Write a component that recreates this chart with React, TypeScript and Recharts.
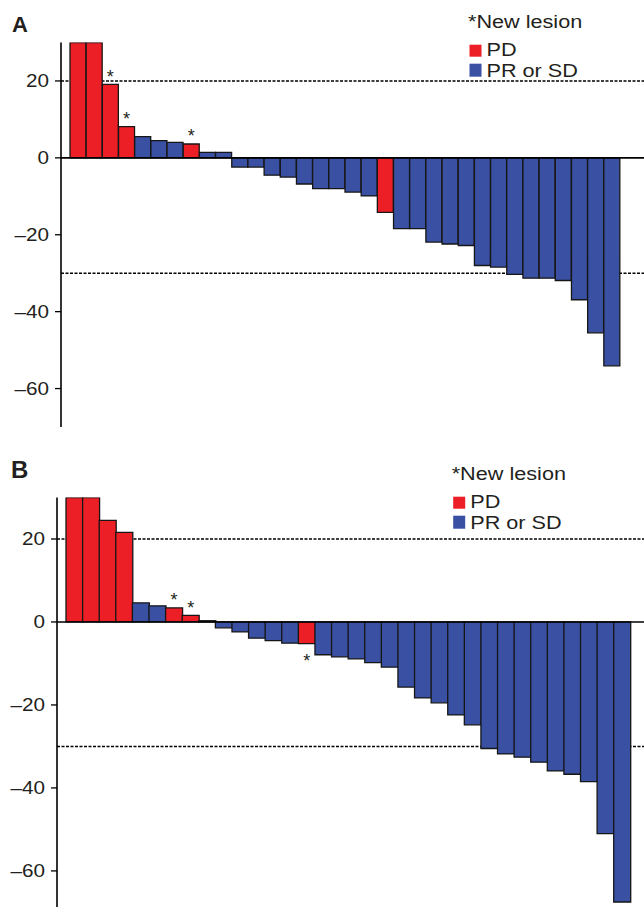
import { BarChart, Bar, Cell, XAxis, YAxis, CartesianGrid, ReferenceLine, LabelList } from "recharts";

// % change from baseline per patient, sorted
const patientsA = Array.from({ length: 34 }, (_, i) => `A${i + 1}`);
const changeA = [30, 30, 19.1, 8.1, 5.5, 4.5, 4.0, 3.6, 1.4, 1.4, -2.4, -2.4, -4.5, -5.0, -6.8, -8.0, -8.0, -8.9, -9.9, -14.2, -18.4, -18.4, -21.9, -22.4, -22.8, -28.0, -28.4, -30.3, -31.3, -31.3, -31.9, -36.9, -45.5, -54.1];
const pdA = [0, 1, 2, 3, 7, 19];
const newLesionA = [2, 3, 7];

const patientsB = Array.from({ length: 34 }, (_, i) => `B${i + 1}`);
const changeB = [30, 30, 24.5, 21.6, 4.6, 3.9, 3.4, 1.6, 0.3, -1.4, -2.4, -3.9, -4.5, -5.1, -5.2, -7.9, -8.4, -8.9, -9.8, -10.9, -15.7, -18.3, -19.5, -22.4, -24.8, -30.5, -31.8, -32.6, -33.8, -35.9, -36.7, -38.5, -51.0, -67.5];
const pdB = [0, 1, 2, 3, 6, 7, 14];
const newLesionB = [6, 7, 14];

const yTicks = [-60, -40, -20, 0, 20];
const cutoffs = [20, -30];

const RED = "#ed1f26";
const BLUE = "#3a51a3";
const INK = "#231f20";
const FONT = "'Liberation Sans', Arial, Helvetica, sans-serif";

type Row = { id: string; value: number; pd: boolean; star: boolean };

function buildRows(ids: string[], vals: number[], pd: number[], stars: number[]): Row[] {
  return ids.map((id, i) => ({ id, value: vals[i], pd: pd.includes(i), star: stars.includes(i) }));
}

const rowsA = buildRows(patientsA, changeA, pdA, newLesionA);
const rowsB = buildRows(patientsB, changeB, pdB, newLesionB);

const fmt = (v: number) => (v < 0 ? `\u2013${Math.abs(v)}` : `${v}`);

const Tick = (props: any) => {
  const { x, y, payload } = props;
  return (
    <text transform={`translate(${x},${y}) scale(1.15,1)`} textAnchor="end" dy="0.36em" fontSize={18} fill={INK} fontFamily={FONT}>
      {fmt(payload.value)}
    </text>
  );
};

const makeStar = (rows: Row[]) => (props: any) => {
  const { x, y, width, height, index } = props;
  const row = rows[index];
  if (!row || !row.star) return null;
  const top = Math.min(y, y + height);
  const bottom = Math.max(y, y + height);
  const cx = x + width / 2;
  const ty = row.value >= 0 ? top - 1.6 : bottom + 23.4;
  return (
    <text x={cx} y={ty} textAnchor="middle" fontSize={18} fill={INK} fontFamily={FONT}>
      *
    </text>
  );
};

function Waterfall({ rows, height, top, axisW, padR, yMin }: { rows: Row[]; height: number; top: number; axisW: number; padR: number; yMin: number }) {
  return (
    <BarChart width={644} height={height} data={rows} margin={{ top, right: 0, bottom: 0, left: 0 }} barCategoryGap={0} barGap={0}>
      <CartesianGrid vertical={false} horizontalValues={cutoffs} stroke="#000" strokeWidth={1.6} strokeDasharray="3 1.5" />
      <XAxis dataKey="id" hide padding={{ left: 9, right: padR }} />
      <YAxis
        width={axisW}
        domain={[yMin, 30]}
        ticks={yTicks}
        allowDataOverflow
        tick={<Tick />}
        tickSize={6}
        tickMargin={6}
        axisLine={{ stroke: "#000", strokeWidth: 1.6 }}
        tickLine={{ stroke: "#000", strokeWidth: 1.3 }}
      />
      <Bar dataKey="value" isAnimationActive={false} stroke="#161616" strokeWidth={1.3}>
        {rows.map((r) => (
          <Cell key={r.id} fill={r.pd ? RED : BLUE} />
        ))}
        <LabelList dataKey="value" content={makeStar(rows)} />
      </Bar>
      <ReferenceLine y={0} stroke="#000" strokeWidth={1.6} />
    </BarChart>
  );
}

function Legend({ x, y }: { x: number; y: number }) {
  return (
    <g fontFamily={FONT} fill={INK} fontSize={18.5}>
      <text transform={`translate(${x},${y}) scale(1.17,1)`}>*New lesion</text>
      <rect x={x + 1.5} y={y + 16.7} width={12} height={12} fill={RED} />
      <text transform={`translate(${x + 18.5},${y + 28.3}) scale(1.17,1)`}>PD</text>
      <rect x={x + 1.5} y={y + 35.7} width={12} height={13} fill={BLUE} />
      <text transform={`translate(${x + 18.5},${y + 49.3}) scale(1.17,1)`}>PR or SD</text>
    </g>
  );
}

export default function App() {
  return (
    <div style={{ position: "absolute", left: 0, top: 0, width: 644, height: 907, background: "#fff", fontFamily: FONT, overflow: "hidden" }}>
      <div style={{ position: "absolute", left: 0, top: 0 }}>
        <Waterfall rows={rowsA} height={427} top={42.5} axisW={61} padR={24} yMin={-70} />
      </div>
      <div style={{ position: "absolute", left: 0, top: 440 }}>
        <Waterfall rows={rowsB} height={467} top={57.5} axisW={57} padR={13.7} yMin={-68.7} />
      </div>
      <svg width={644} height={907} style={{ position: "absolute", left: 0, top: 0, pointerEvents: "none" }}>
        <text x={12} y={31.7} fontSize={22} fontWeight="bold" fill={INK} fontFamily={FONT}>A</text>
        <text x={11} y={478.3} fontSize={24} fontWeight="bold" fill={INK} fontFamily={FONT}>B</text>
        <Legend x={468} y={28} />
        <Legend x={451.7} y={480} />
      </svg>
    </div>
  );
}
